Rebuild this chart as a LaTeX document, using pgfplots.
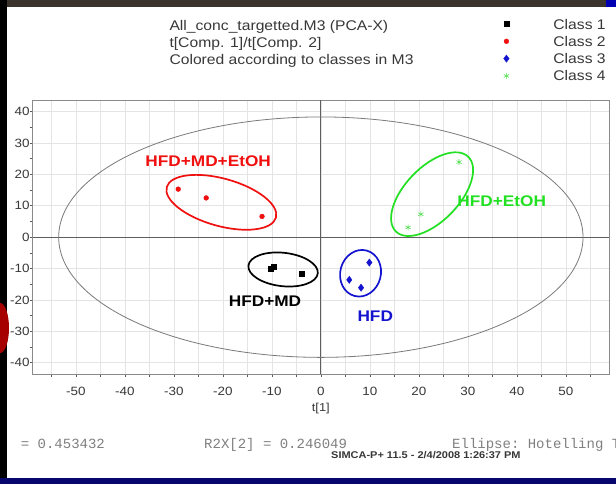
\documentclass[border=0pt]{standalone}
\usepackage{fontspec}
\setmainfont{Liberation Sans}[FakeStretch=1.12]
\setmonofont{Liberation Mono}
\usepackage{pgfplots}
\pgfplotsset{compat=1.18}
\definecolor{gridc}{HTML}{E4E4E4}
\definecolor{framec}{HTML}{8A8A8A}
\definecolor{tickc}{HTML}{5A5A5A}
\definecolor{labc}{HTML}{383838}
\definecolor{zeroc}{HTML}{5E5E5E}
\definecolor{ellc}{HTML}{7A7A7A}
\definecolor{monoc}{HTML}{808080}
\definecolor{cred}{HTML}{F01010}
\definecolor{cblue}{HTML}{1414D0}
\definecolor{cgreen}{HTML}{22E022}
\definecolor{cgreenm}{HTML}{55DD55}
\definecolor{photo}{HTML}{3A342D}
\definecolor{navy}{HTML}{06066E}
\begin{document}
\begin{tikzpicture}
\fill[white] (0,0) rectangle (616pt,484pt);
\path[use as bounding box] (0,0) rectangle (616pt,484pt);
\begin{axis}[
  at={(32.7pt,110pt)}, anchor=south west, scale only axis,
  width=576.3pt, height=274pt,
  xmin=-58.8, xmax=58.8, ymin=-43.6, ymax=43.7,
  xtick={-50,-40,...,50}, minor xtick={-55,-45,...,55},
  ytick={-40,-30,...,40}, minor ytick={-35,-25,...,35},
  xtick pos=lower, ytick pos=left, tick align=outside,
  major tick length=3pt, minor tick length=3pt,
  xmajorgrids, xminorgrids, ymajorgrids,
  grid style={gridc, line width=0.6pt},
  minor grid style={gridc, line width=0.6pt},
  axis line style={framec, line width=0.9pt},
  every tick/.style={tickc, line width=0.6pt},
  /pgf/number format/assume math mode=true,
  tick label style={font=\fontsize{12}{14}\selectfont, text=labc},
  xticklabel style={anchor=center, inner sep=0pt, yshift=-14.5pt},
  yticklabel style={anchor=east, inner sep=0pt},
  xlabel={t[1]},
  xlabel style={at={(axis description cs:0.5,0)}, anchor=center, yshift=-35pt, font=\fontsize{11.5}{13}\selectfont, text=labc},
  legend style={at={(0.8173,1.2956)}, anchor=north west, draw=none, fill=none,
    inner sep=0pt, outer sep=0pt, row sep=4.7pt,
    font=\fontsize{14}{16}\selectfont, text=labc,
    nodes={inner sep=0pt, text height=10pt, text depth=2.6pt},
    /tikz/every odd column/.append style={column sep=44.3pt}},
  legend cell align=left,
  legend image code/.code={\draw[#1, only marks] plot coordinates {(0pt,1.3pt)};},
]
\draw[zeroc, line width=0.8pt] (axis cs:-58.8,0) -- (axis cs:58.8,0);
\draw[zeroc, line width=0.8pt] (axis cs:0,-43.6) -- (axis cs:0,43.7);
\draw[ellc, line width=0.8pt] (axis cs:0,0) ellipse [x radius=53.5, y radius=38.3];

\addplot[only marks, mark=square*, mark size=2.5pt, black] coordinates {
  (-10.3,-10.0) (-9.7,-9.4) (-3.9,-11.7)};
\addlegendentry{Class 1}
\addplot[only marks, mark=*, mark size=2.4pt, cred] coordinates {
  (-29.1,15.3) (-23.4,12.5) (-12.0,6.6)};
\addlegendentry{Class 2}
\addplot[only marks, mark=diamond*, mark size=3.6pt, cblue] coordinates {
  (9.9,-8.1) (5.8,-13.6) (8.2,-16.1)};
\addlegendentry{Class 3}
\addplot[only marks, mark=asterisk, mark size=3pt, cgreenm, line width=0.6pt] coordinates {
  (28.2,23.9) (20.4,7.3) (17.8,3.1)};
\addlegendentry{Class 4}

\coordinate (cR) at (axis cs:-20.3,11.1);
\coordinate (cK) at (axis cs:-7.7,-10.3);
\coordinate (cG) at (axis cs:22.7,13.7);
\coordinate (cB) at (axis cs:8.1,-11.5);

\node[font=\bfseries\fontsize{15.4}{17}\selectfont, text=cred] at (axis cs:-23,24.1) {HFD+MD+EtOH};
\node[font=\bfseries\fontsize{15.4}{17}\selectfont, text=black] at (axis cs:-11.4,-20.5) {HFD+MD};
\node[font=\bfseries\fontsize{15.4}{17}\selectfont, text=cblue] at (axis cs:11.1,-25.1) {HFD};
\node[font=\bfseries\fontsize{15.4}{17}\selectfont, text=cgreen] at (axis cs:36.9,11.3) {HFD+EtOH};
\end{axis}

\draw[cred, line width=1.7pt, rotate around={-15.6:(cR)}] (cR) ellipse [x radius=56.7pt, y radius=23.7pt];
\draw[black, line width=1.7pt, rotate around={-6.4:(cK)}] (cK) ellipse [x radius=34.9pt, y radius=16.7pt];
\draw[cgreen, line width=1.7pt, rotate around={46:(cG)}] (cG) ellipse [x radius=52pt, y radius=27pt];
\draw[cblue, line width=1.7pt, rotate around={75:(cB)}] (cB) ellipse [x radius=23.5pt, y radius=20.3pt];

% header
\node[anchor=base west, inner sep=0pt, font=\fontsize{14}{16}\selectfont, text=labc] at (169.3pt,453pt) {All\_conc\_targetted.M3 (PCA-X)};
\node[anchor=base west, inner sep=0pt, font=\fontsize{14}{16}\selectfont, text=labc] at (169.3pt,436.3pt) {t[Comp. 1]/t[Comp. 2]};
\node[anchor=base west, inner sep=0pt, font=\fontsize{14}{16}\selectfont, text=labc] at (169.3pt,419.7pt) {Colored according to classes in M3};

% footer
\begin{scope}
\clip (0,0) rectangle (616pt,484pt);
\node[anchor=base west, inner sep=0pt, font=\ttfamily\fontsize{14}{16}\selectfont, text=monoc] at (20.7pt,35pt) {= 0.453432};
\node[anchor=base west, inner sep=0pt, font=\ttfamily\fontsize{14}{16}\selectfont, text=monoc] at (204pt,35pt) {R2X[2] = 0.246049};
\node[anchor=base west, inner sep=0pt, font=\ttfamily\fontsize{14}{16}\selectfont, text=monoc] at (452pt,35pt) {Ellipse: Hotelling T2 (0.95)};
\node[anchor=base west, inner sep=0pt, font=\bfseries\fontsize{9.8}{11}\selectfont, text=labc] at (331pt,25.8pt) {SIMCA-P+ 11.5 - 2/4/2008 1:26:37 PM};
% photo borders
\fill[photo] (0,477pt) rectangle (616pt,484pt);
\fill[blue!70!black] (606pt,477pt) rectangle (616pt,484pt);
\fill[black] (0,0) rectangle (7pt,484pt);
\fill[navy] (0,0) rectangle (616pt,6pt);
\fill[red!65!black] (0,156pt) ellipse [x radius=9pt, y radius=25pt];
\end{scope}
\end{tikzpicture}
\end{document}
